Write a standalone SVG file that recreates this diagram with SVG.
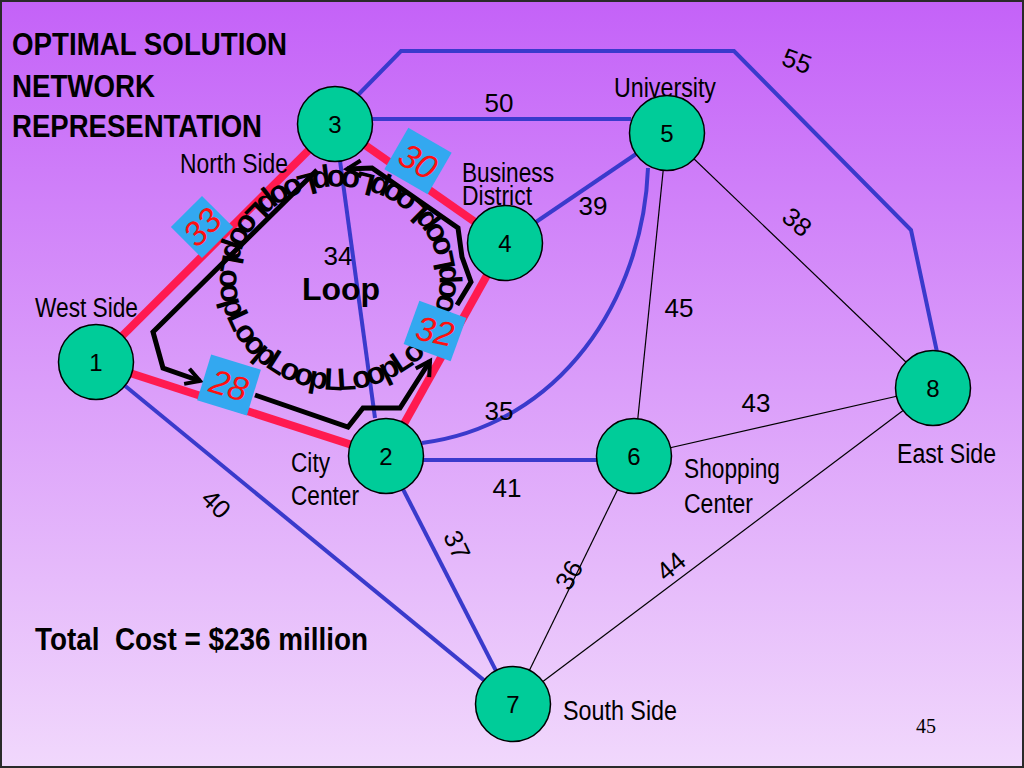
<svg xmlns="http://www.w3.org/2000/svg" width="1024" height="768" viewBox="0 0 1024 768">
<defs>
<linearGradient id="bg" x1="0" y1="0" x2="0" y2="1">
<stop offset="0" stop-color="#c462f8"/>
<stop offset="1" stop-color="#f1d8fc"/>
</linearGradient>
<marker id="arr" markerUnits="userSpaceOnUse" markerWidth="24" markerHeight="24" refX="18" refY="12" orient="auto" viewBox="0 0 24 24">
<path d="M4,4 L18,12 L4,20" fill="none" stroke="#000" stroke-width="4" stroke-linejoin="miter"/>
</marker>
<path id="loopPath" d="M338,390 A118,110 0 0 0 338,170 A118,110 0 0 0 338,390 Z"/>
</defs>
<style>
text{font-family:"Liberation Sans",Arial,sans-serif;fill:#000}
.title{font-weight:bold;font-size:31px}
.lbl{font-size:27px}
.num{font-size:26px;text-anchor:middle}
.nid{font-size:24px;text-anchor:middle}
.red{stroke:#ff1a50;stroke-width:8;fill:none}
.blue{stroke:#3a3acc;stroke-width:4;fill:none}
.thin{stroke:#000;stroke-width:1.2;fill:none}
.node circle{fill:#00cc99;stroke:#000;stroke-width:1.5}
.box rect{fill:#33a8f0}
.box text{fill:#ff1010;font-size:34px;text-anchor:middle;font-style:italic}
.loop{stroke:#000;stroke-width:5;fill:none;stroke-linejoin:miter}
.looptxt{font-weight:bold;font-size:31px;letter-spacing:-3px}
</style>
<rect x="0" y="0" width="1024" height="768" fill="url(#bg)"/>
<rect x="1" y="1" width="1022" height="766" fill="none" stroke="#2a2a2a" stroke-width="2"/>

<g id="title">
<text class="title" x="12" y="55" textLength="275" lengthAdjust="spacingAndGlyphs">OPTIMAL SOLUTION</text>
<text class="title" x="12" y="97" textLength="143" lengthAdjust="spacingAndGlyphs">NETWORK</text>
<text class="title" x="12" y="137" textLength="250" lengthAdjust="spacingAndGlyphs">REPRESENTATION</text>
</g>

<g id="connectors">
<path class="blue" d="M358,95 L401,51 L734,51 L911,230 L937,352"/>
<line class="blue" x1="372" y1="119" x2="631" y2="119"/>
<line class="blue" x1="505" y1="243" x2="667" y2="133"/>
<path class="blue" d="M648,168 C643,300 560,425 422,443"/>
<line class="blue" x1="335" y1="124" x2="375" y2="418"/>
<line class="blue" x1="386" y1="460" x2="634" y2="460"/>
<line class="blue" x1="386" y1="456" x2="513" y2="704"/>
<line class="blue" x1="96" y1="362" x2="513" y2="704"/>
<line class="thin" x1="667" y1="133" x2="634" y2="456"/>
<line class="thin" x1="667" y1="133" x2="933" y2="388"/>
<line class="thin" x1="634" y1="456" x2="933" y2="388"/>
<line class="thin" x1="634" y1="456" x2="513" y2="704"/>
<line class="thin" x1="513" y1="704" x2="933" y2="388"/>
<line class="red" x1="96" y1="362" x2="335" y2="124"/>
<line class="red" x1="335" y1="124" x2="505" y2="243"/>
<line class="red" x1="505" y1="243" x2="386" y2="456"/>
<line class="red" x1="96" y1="362" x2="386" y2="456"/>
</g>

<g id="loop">
<path class="loop" d="M317,170 L153,332 L163,368 L200,381" marker-end="url(#arr)"/>
<path class="loop" d="M255,395 L348,427 L363,408 L400,408 L430,361" marker-end="url(#arr)"/>
<path class="loop" d="M457,305 L471,282 L462,257 L458,228 L372,168 L347,169" marker-end="url(#arr)"/>
<text class="looptxt"><textPath href="#loopPath">LoopLoopLoopLoopLoopLoopLoopLoopLoopLoopLoopLoop</textPath></text>
<text x="341" y="300" style="font-weight:bold;font-size:32px;text-anchor:middle">Loop</text>
</g>

<g id="boxes">
<g class="box" transform="translate(202,227) rotate(-45)"><rect x="-22" y="-22" width="44" height="44"/><text x="0" y="12">33</text></g>
<g class="box" transform="translate(418,161) rotate(30)"><rect x="-25" y="-24" width="50" height="48"/><text x="0" y="12">30</text></g>
<g class="box" transform="translate(435,331) rotate(20)"><rect x="-25" y="-23" width="50" height="46"/><text x="0" y="12" transform="rotate(-8)">32</text></g>
<g class="box" transform="translate(229,385) rotate(17)"><rect x="-26" y="-24" width="52" height="48"/><text x="0" y="12">28</text></g>
</g>

<g id="edge-labels">
<text class="num" transform="translate(797,61) rotate(20)" y="9">55</text>
<text class="num" x="499" y="112">50</text>
<text class="num" x="593" y="215">39</text>
<text class="num" transform="translate(797,222) rotate(40)" y="9">38</text>
<text class="num" x="338" y="265">34</text>
<text class="num" x="679" y="317">45</text>
<text class="num" x="499" y="420">35</text>
<text class="num" x="756" y="412">43</text>
<text class="num" x="507" y="497">41</text>
<text class="num" transform="translate(216,504) rotate(45)" y="9">40</text>
<text class="num" transform="translate(457,545) rotate(65)" y="9">37</text>
<text class="num" transform="translate(569,575) rotate(-60)" y="9">36</text>
<text class="num" transform="translate(671,566) rotate(-40)" y="9">44</text>
</g>

<g id="place-labels">
<text class="lbl" x="180" y="173" textLength="108" lengthAdjust="spacingAndGlyphs">North Side</text>
<text class="lbl" x="35" y="317" textLength="103" lengthAdjust="spacingAndGlyphs">West Side</text>
<text class="lbl" x="614" y="97" textLength="102" lengthAdjust="spacingAndGlyphs">University</text>
<text class="lbl" x="462" y="182" textLength="92" lengthAdjust="spacingAndGlyphs">Business</text>
<text class="lbl" x="462" y="205" textLength="70" lengthAdjust="spacingAndGlyphs">District</text>
<text class="lbl" x="291" y="472" textLength="39" lengthAdjust="spacingAndGlyphs">City</text>
<text class="lbl" x="291" y="505" textLength="68" lengthAdjust="spacingAndGlyphs">Center</text>
<text class="lbl" x="684" y="478" textLength="96" lengthAdjust="spacingAndGlyphs">Shopping</text>
<text class="lbl" x="684" y="513" textLength="69" lengthAdjust="spacingAndGlyphs">Center</text>
<text class="lbl" x="897" y="463" textLength="99" lengthAdjust="spacingAndGlyphs">East Side</text>
<text class="lbl" x="563" y="720" textLength="114" lengthAdjust="spacingAndGlyphs">South Side</text>
</g>

<g id="node1" class="node"><circle cx="96" cy="362" r="37.5"/><text class="nid" x="96" y="371">1</text></g>
<g id="node2" class="node"><circle cx="386" cy="456" r="37.5"/><text class="nid" x="386" y="465">2</text></g>
<g id="node3" class="node"><circle cx="335" cy="124" r="37.5"/><text class="nid" x="335" y="133">3</text></g>
<g id="node4" class="node"><circle cx="505" cy="243" r="37.5"/><text class="nid" x="505" y="252">4</text></g>
<g id="node5" class="node"><circle cx="667" cy="133" r="37.5"/><text class="nid" x="667" y="142">5</text></g>
<g id="node6" class="node"><circle cx="634" cy="456" r="37.5"/><text class="nid" x="634" y="465">6</text></g>
<g id="node7" class="node"><circle cx="513" cy="704" r="37.5"/><text class="nid" x="513" y="713">7</text></g>
<g id="node8" class="node"><circle cx="933" cy="388" r="37.5"/><text class="nid" x="933" y="397">8</text></g>

<g id="footer">
<text x="35" y="650" style="font-weight:bold;font-size:32px" textLength="333" lengthAdjust="spacingAndGlyphs">Total&#160; Cost = $236 million</text>
<text x="926" y="733" style="font-family:'Liberation Serif',serif;font-size:20px;text-anchor:middle">45</text>
</g>
</svg>
